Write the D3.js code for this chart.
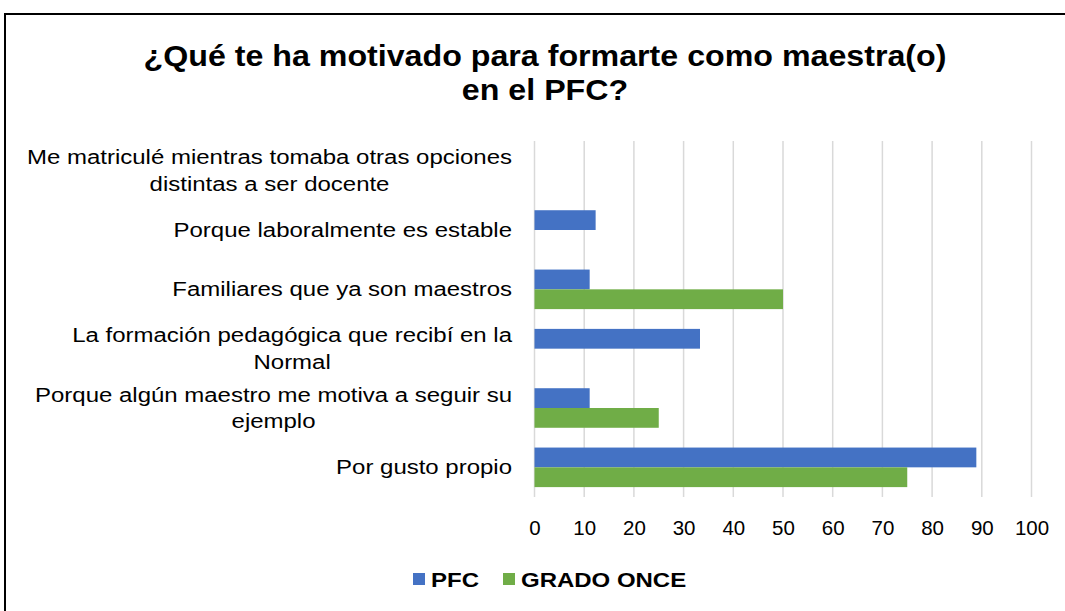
<!DOCTYPE html>
<html>
<head>
<meta charset="utf-8">
<script src="https://cdn.jsdelivr.net/npm/d3@7"></script>
<style>
  body { margin: 0; background: #fff; }
  text { font-family: "Liberation Sans", Arial, sans-serif; }
</style>
</head>
<body>
<svg id="chart" width="1065" height="611"></svg>
<script>
// categories top to bottom, each label split in lines
var categories = [
    ['Me matriculé mientras tomaba otras opciones', 'distintas a ser docente'],
    ['Porque laboralmente es estable'],
    ['Familiares que ya son maestros'],
    ['La formación pedagógica que recibí en la', 'Normal'],
    ['Porque algún maestro me motiva a seguir su', 'ejemplo'],
    ['Por gusto propio']
];
var pfcValues = [0, 12.3, 11.1, 33.3, 11.1, 88.9];
var onceValues = [0, 0, 50, 0, 25, 75];
var seriesNames = ['PFC', 'GRADO ONCE'];
var seriesColors = ['#4472C4', '#70AD47'];
var xTicks = [0, 10, 20, 30, 40, 50, 60, 70, 80, 90, 100];

// the source picture is stretched sideways, so text gets a horizontal scale
var stretch = 1.23;

var svg = d3.select('#chart');

// outer frame, runs off the right and bottom edge like the source
svg.append('rect')
    .attr('x', 5).attr('y', 14)
    .attr('width', 1080).attr('height', 620)
    .attr('fill', 'none')
    .attr('stroke', '#000')
    .attr('stroke-width', 2);

// title
var title = svg.append('text')
    .attr('transform', 'translate(545,0) scale(1.11,1)')
    .attr('text-anchor', 'middle')
    .attr('font-size', 29)
    .attr('font-weight', 'bold')
    .attr('fill', '#000');
title.append('tspan').attr('x', 0).attr('y', 66).text('¿Qué te ha motivado para formarte como maestra(o)');
title.append('tspan').attr('x', 0).attr('y', 100).text('en el PFC?');

var plot = { left: 534.5, right: 1031.5, top: 141, bottom: 497 };

var x = d3.scaleLinear().domain([0, 100]).range([plot.left, plot.right]);
var y = d3.scaleBand()
    .domain(d3.range(categories.length))
    .range([plot.top, plot.bottom])
    .paddingInner(0).paddingOuter(0);
var sub = d3.scaleBand()
    .domain([0, 1])
    .range([0, y.bandwidth()])
    .paddingOuter(0.5).paddingInner(0);

// gridlines
svg.append('g')
    .selectAll('line')
    .data(xTicks)
    .join('line')
    .attr('x1', function(d) { return x(d); })
    .attr('x2', function(d) { return x(d); })
    .attr('y1', plot.top)
    .attr('y2', plot.bottom)
    .attr('stroke', '#d9d9d9')
    .attr('stroke-width', 1.5);

// bars
var series = [pfcValues, onceValues];
series.forEach(function(vals, si) {
    svg.append('g')
        .selectAll('rect')
        .data(vals)
        .join('rect')
        .attr('x', x(0))
        .attr('y', function(d, i) { return y(i) + sub(si); })
        .attr('width', function(d) { return x(d) - x(0); })
        .attr('height', sub.bandwidth())
        .attr('fill', seriesColors[si]);
});

// x axis tick labels
var xAxis = d3.axisBottom(x).tickValues(xTicks).tickSize(0).tickPadding(0);
var gx = svg.append('g')
    .attr('transform', 'translate(0,535)')
    .call(xAxis);
gx.select('.domain').remove();
gx.selectAll('.tick text')
    .attr('y', 0)
    .attr('dy', 0)
    .attr('font-size', 20.5)
    .attr('fill', '#000')
    .attr('font-family', '"Liberation Sans", Arial, sans-serif');

// category labels: lines centred on each other, block right aligned
var lineH = 27;
categories.forEach(function(lines, i) {
    var cy = y(i) + y.bandwidth() / 2;
    var g = svg.append('text')
        .attr('transform', 'translate(512,' + cy + ') scale(' + stretch + ',1)')
        .attr('font-size', 19.5)
        .attr('fill', '#000');
    var spans = lines.map(function(l, k) {
        return g.append('tspan')
            .attr('y', 7 + (k - (lines.length - 1) / 2) * lineH)
            .text(l);
    });
    var widths = spans.map(function(s) { return s.node().getComputedTextLength(); });
    var maxW = d3.max(widths);
    spans.forEach(function(s, k) {
        s.attr('x', -maxW / 2 - widths[k] / 2);
    });
});

// legend
var legend = svg.append('g');
var lx = [413, 503];
seriesNames.forEach(function(name, i) {
    legend.append('rect')
        .attr('x', lx[i]).attr('y', 573)
        .attr('width', 12).attr('height', 12)
        .attr('fill', seriesColors[i]);
    legend.append('text')
        .attr('transform', 'translate(' + (lx[i] + 18) + ',587) scale(' + stretch + ',1)')
        .attr('font-size', 19.5)
        .attr('font-weight', 'bold')
        .attr('fill', '#000')
        .text(name);
});
</script>
</body>
</html>
